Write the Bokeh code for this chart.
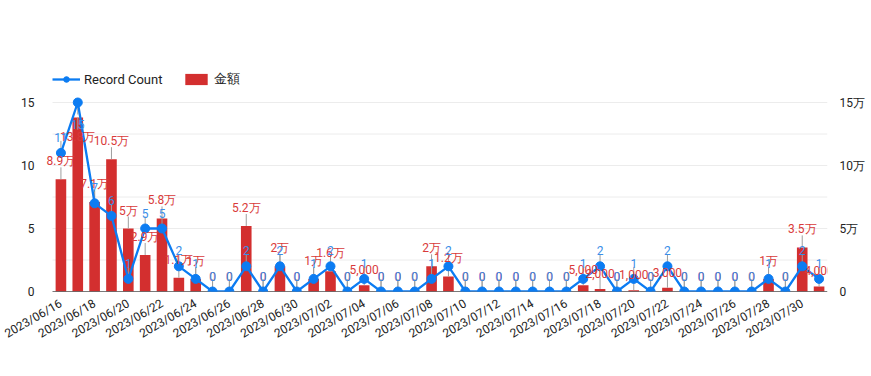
import math
import pandas as pd
from bokeh.plotting import figure
from bokeh.models import Range1d, LinearAxis, FixedTicker, ColumnDataSource, Legend, LegendItem
from bokeh.core.properties import value
from bokeh.embed import file_html
from bokeh.resources import INLINE

dates = [d.strftime("%Y/%m/%d") for d in pd.date_range("2023-06-16", "2023-07-31")]
counts = [11, 15, 7, 6, 1, 5, 5, 2, 1, 0,
          0, 2, 0, 2, 0, 1, 2, 0, 1, 0,
          0, 0, 1, 2, 0, 0, 0, 0, 0, 0,
          0, 1, 2, 0, 1, 0, 2, 0, 0, 0,
          0, 0, 1, 0, 2, 1]
amounts = [89000, 138000, 71000, 105000, 50000, 29000, 58000, 11000, 10000, 0,
           0, 52000, 0, 20000, 0, 10000, 16000, 0, 5000, 0,
           0, 0, 20000, 12000, 0, 0, 0, 0, 0, 0,
           0, 5000, 2000, 0, 1000, 0, 3000, 0, 0, 0,
           0, 0, 10000, 0, 35000, 4000]
left_ticks = [0, 5, 10, 15]
right_ticks = [0, 50000, 100000, 150000]
right_tick_labels = ["0", "5万", "10万", "15万"]
grid_ticks = [0, 2.5, 5, 7.5, 10, 12.5, 15]


def fmt_amount(v):
    if v >= 10000:
        s = f"{v / 10000:.1f}".rstrip("0").rstrip(".")
        return s + "万"
    if v == 0:
        return "0"
    return f"{v:,}"


FONT = "Roboto"
BLUE = "#0c7cf2"
BLUE_TXT = "#3a8ee8"
RED = "#d32f2f"
RED_TXT = "#d93a3a"
STEM = "#9e9e9e"

# layout (pixels): frame extends above the 15 gridline (legend room) and a bit left
FRAME_LEFT, AXIS_LEFT, FRAME_RIGHT = 40, 52, 827
FRAME_TOP, AXIS_TOP, AXIS_BOTTOM = 66, 102, 291
N = len(dates)
X_START = -0.5 - (AXIS_LEFT - FRAME_LEFT) * N / (FRAME_RIGHT - AXIS_LEFT)
Y_END = 15 * (AXIS_BOTTOM - FRAME_TOP) / (AXIS_BOTTOM - AXIS_TOP)
PLOT_H = AXIS_BOTTOM - AXIS_TOP
STEM_LEN, LABEL_H = 12, 14


def placement(vals, vmax):
    """Labels that would rise above the top gridline are put below the point."""
    angles, offsets = [], []
    for v in vals:
        flip = v / vmax * PLOT_H + STEM_LEN + LABEL_H > PLOT_H
        angles.append(-math.pi / 2 if flip else math.pi / 2)
        offsets.append(STEM_LEN + LABEL_H if flip else -(STEM_LEN - 1))
    return angles, offsets


cnt_ang, cnt_off = placement(counts, 15)
amt_ang, amt_off = placement(amounts, 150000)

xs = list(range(N))
src = ColumnDataSource(dict(
    x=xs, cnt=counts, amt=amounts,
    cnt_lbl=[str(c) for c in counts],
    amt_lbl=[fmt_amount(a) for a in amounts],
    cnt_ang=cnt_ang, cnt_off=cnt_off, amt_ang=amt_ang, amt_off=amt_off,
))

p = figure(width=871, height=376, output_backend="svg", toolbar_location=None,
           x_range=Range1d(X_START, N - 0.5), y_range=Range1d(0, Y_END),
           min_border_left=FRAME_LEFT, min_border_right=871 - FRAME_RIGHT,
           min_border_top=FRAME_TOP, min_border_bottom=376 - AXIS_BOTTOM)
p.outline_line_color = None
p.extra_y_ranges = {"amt": Range1d(0, Y_END * 10000)}

# grids drawn as segments spanning the category band only
p.xgrid.visible = False
p.ygrid.visible = False
p.segment(x0=[-0.5] * len(grid_ticks), y0=grid_ticks, x1=[N - 0.5] * len(grid_ticks),
          y1=grid_ticks, line_color="#ececec", line_width=1)

# x axis
p.xaxis.ticker = FixedTicker(ticks=xs[::2])
p.xaxis.major_label_overrides = {i: dates[i] for i in xs[::2]}
p.xaxis.major_label_orientation = math.pi / 6
p.xaxis.axis_line_color = None
p.xaxis.major_tick_line_color = None
p.xaxis.minor_tick_line_color = None
p.xaxis.major_label_text_font = FONT
p.xaxis.major_label_text_font_size = "12px"
p.xaxis.major_label_text_color = "#222222"
p.xaxis.major_label_standoff = 5

# left axis
p.yaxis.ticker = FixedTicker(ticks=left_ticks)
p.yaxis.axis_line_color = None
p.yaxis.major_tick_line_color = None
p.yaxis.minor_tick_line_color = None
p.yaxis.major_label_text_font = FONT
p.yaxis.major_label_text_font_size = "12px"
p.yaxis.major_label_text_color = "#222222"
p.yaxis.major_label_standoff = 0

# right axis
ra = LinearAxis(y_range_name="amt", ticker=FixedTicker(ticks=right_ticks),
                major_label_overrides={t: l for t, l in zip(right_ticks, right_tick_labels)})
ra.axis_line_color = None
ra.major_tick_line_color = None
ra.minor_tick_line_color = None
ra.major_label_text_font = FONT
ra.major_label_text_font_size = "12px"
ra.major_label_text_color = "#222222"
ra.major_label_standoff = 6
p.add_layout(ra, "right")

# bars
bar_r = p.vbar(x="x", top="amt", width=0.63, y_range_name="amt", fill_color=RED,
               line_color=None, source=src)
p.ray(x="x", y="amt", length=STEM_LEN, length_units="screen", angle="amt_ang",
      y_range_name="amt", line_color=STEM, line_width=1, source=src)

# baseline
p.segment(x0=[-0.5], y0=[0], x1=[N - 0.5], y1=[0], line_color="black", line_width=1.2)

# line
p.ray(x="x", y="cnt", length=STEM_LEN, length_units="screen", angle="cnt_ang",
      line_color=STEM, line_width=1, source=src)
line_r = p.line(x="x", y="cnt", line_width=2.3, line_color=BLUE, source=src)
pts_r = p.scatter(x="x", y="cnt", size=9, fill_color=BLUE, line_color=BLUE, source=src)

# labels
p.text(x="x", y="amt", text="amt_lbl", y_range_name="amt", text_align="center",
       text_baseline="bottom", y_offset="amt_off", text_color=RED_TXT,
       text_font=value(FONT), text_font_size="12px", source=src)
p.text(x="x", y="cnt", text="cnt_lbl", text_align="center",
       text_baseline="bottom", y_offset="cnt_off", text_color=BLUE_TXT,
       text_font=value(FONT), text_font_size="12px", source=src)

legend = Legend(items=[LegendItem(label="Record Count", renderers=[line_r, pts_r]),
                       LegendItem(label="金額", renderers=[bar_r])],
                orientation="horizontal",
                location=(AXIS_LEFT - FRAME_LEFT, AXIS_BOTTOM - FRAME_TOP - 22),
                glyph_width=28, glyph_height=14, label_standoff=4, spacing=20,
                padding=0, margin=0, border_line_color=None, background_fill_alpha=0,
                label_text_font=FONT, label_text_font_size="13px",
                label_text_color="#222222")
p.add_layout(legend)

open("out.html", "w").write(file_html(p, INLINE))
